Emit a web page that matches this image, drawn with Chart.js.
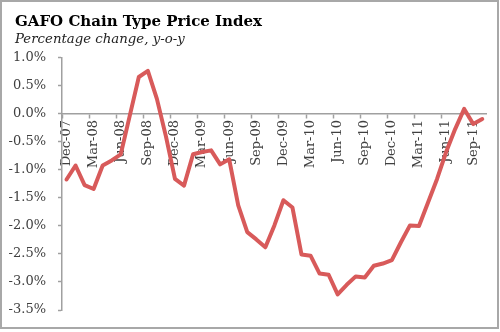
<!DOCTYPE html>
<html>
<head>
<meta charset="utf-8">
<script src="https://cdn.jsdelivr.net/npm/chart.js@4.4.0/dist/chart.umd.min.js"></script>
<style>
  body { margin: 0; background: #fff; }
  #wrap { width: 500px; height: 332px; }
</style>
</head>
<body>
<div id="wrap"><canvas id="gafoChart" width="500" height="332"></canvas></div>
<script>
const months = [
    'Dec-07',
    'Jan-08', 'Feb-08', 'Mar-08', 'Apr-08', 'May-08', 'Jun-08', 'Jul-08', 'Aug-08', 'Sep-08', 'Oct-08', 'Nov-08', 'Dec-08',
    'Jan-09', 'Feb-09', 'Mar-09', 'Apr-09', 'May-09', 'Jun-09', 'Jul-09', 'Aug-09', 'Sep-09', 'Oct-09', 'Nov-09', 'Dec-09',
    'Jan-10', 'Feb-10', 'Mar-10', 'Apr-10', 'May-10', 'Jun-10', 'Jul-10', 'Aug-10', 'Sep-10', 'Oct-10', 'Nov-10', 'Dec-10',
    'Jan-11', 'Feb-11', 'Mar-11', 'Apr-11', 'May-11', 'Jun-11', 'Jul-11', 'Aug-11', 'Sep-11', 'Oct-11'
];
const priceChange = [
    -1.17,
    -0.92, -1.27, -1.34, -0.92, -0.83, -0.72, -0.03, 0.66, 0.77, 0.27, -0.40, -1.16,
    -1.28, -0.72, -0.68, -0.65, -0.90, -0.81, -1.63, -2.11, -2.24, -2.38, -1.99, -1.54,
    -1.67, -2.51, -2.53, -2.85, -2.87, -3.22, -3.05, -2.90, -2.92, -2.71, -2.67, -2.61,
    -2.29, -1.99, -2.00, -1.58, -1.16, -0.68, -0.27, 0.09, -0.18, -0.09
];
const yMin = -3.5;
const yMax = 1.0;
const yStep = 0.5;

const serif = "'DejaVu Serif', 'Liberation Serif', serif";
const axisGray = '#a0a0a0';
const textColor = '#404040';

// grey frame round the whole picture
const framePlugin = {
    id: 'frame',
    afterLayout(chart) {
        // let the y tick labels run past the left padding (no clipping)
        chart.scales.y.left = 0;
    },
    afterDraw(chart) {
        const ctx = chart.ctx;
        ctx.save();
        ctx.strokeStyle = '#a8a8a8';
        ctx.lineWidth = 2;
        ctx.strokeRect(1, 1, 497, 327);
        ctx.restore();
    }
};

const canvas = document.getElementById('gafoChart');
const myChart = new Chart(canvas, {
    type: 'line',
    data: {
        labels: months,
        datasets: [{
            label: 'GAFO',
            data: priceChange,
            borderColor: '#d85a5a',
            borderWidth: 4,
            pointRadius: 0,
            tension: 0,
            borderJoinStyle: 'round',
            borderCapStyle: 'round'
        }]
    },
    options: {
        responsive: false,
        animation: false,
        layout: {
            padding: { left: 15, right: 13, top: 0, bottom: 22 }
        },
        plugins: {
            legend: { display: false },
            tooltip: { enabled: false },
            title: {
                display: true,
                text: 'GAFO Chain Type Price Index',
                align: 'start',
                color: '#000',
                font: { family: serif, size: 15, weight: 'bold', lineHeight: 1.2 },
                padding: { top: 13, bottom: 1 }
            },
            subtitle: {
                display: true,
                text: 'Percentage change, y-o-y',
                align: 'start',
                color: '#222',
                font: { family: serif, size: 13.3, style: 'italic', lineHeight: 1.2 },
                padding: { top: 0, bottom: 10 }
            }
        },
        scales: {
            x: {
                position: { y: 0 },
                offset: true,
                grid: {
                    offset: true,
                    drawOnChartArea: false,
                    drawTicks: true,
                    tickLength: 4,
                    tickColor: (ctx) => (ctx.index % 3 === 0 ? axisGray : 'rgba(0,0,0,0)'),
                    tickWidth: 1.5
                },
                border: { color: axisGray, width: 1.5 },
                ticks: {
                    autoSkip: false,
                    maxRotation: 90,
                    minRotation: 90,
                    padding: 2,
                    color: textColor,
                    font: { family: serif, size: 13 },
                    callback: function (value, index) {
                        return index % 3 === 0 ? this.getLabelForValue(value) : '';
                    }
                }
            },
            y: {
                min: yMin,
                max: yMax,
                afterFit: (scale) => { scale.width = 47; },
                grid: {
                    drawOnChartArea: false,
                    drawTicks: true,
                    tickLength: 4,
                    color: axisGray,
                    tickWidth: 1.5
                },
                border: { color: axisGray, width: 1.5 },
                ticks: {
                    stepSize: yStep,
                    padding: 12,
                    color: textColor,
                    font: { family: serif, size: 13 },
                    callback: (v) => v.toFixed(1) + '%'
                }
            }
        }
    },
    plugins: [framePlugin]
});
</script>
</body>
</html>
